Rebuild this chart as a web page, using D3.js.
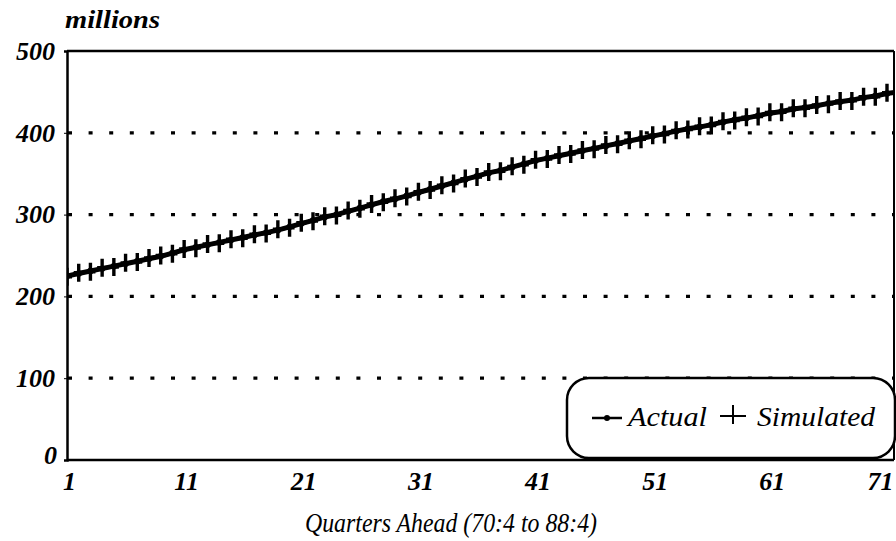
<!DOCTYPE html>
<html><head><meta charset="utf-8">
<script src="https://cdn.jsdelivr.net/npm/d3@7"></script>
<style>
body{margin:0;background:#fff;}
text{font-family:"Liberation Serif","Times New Roman","DejaVu Serif",serif;font-style:italic;font-weight:bold;fill:#000;}
</style></head>
<body><svg id="c" width="896" height="541"></svg>
<script>
const quarters = d3.range(1, 74);
const actual = [225,228,231,234,237,240,243,246,249,253,257,
  260,263,266,269,272,275,278,281,285,289,
  293,297,300,304,308,312,316,319,323,327,
  331,335,339,343,347,351,354,358,362,366,
  369,372,375,378,381,384,387,390,393,396,
  399,402,405,407,410,413,416,418,421,424,
  426,429,431,433,436,438,440,443,445,448,
  450,452];
const simulated = [224,229,230,235,236,241,242,247,250,252,258,
  259,264,265,270,271,276,277,282,284,290,
  292,298,299,305,307,313,315,320,322,328,
  330,336,338,344,346,352,353,359,361,367,
  368,373,374,379,380,385,386,391,392,397,
  398,403,404,408,409,414,415,419,420,425,
  425,430,430,434,435,439,439,444,444,449,
  449,453];
const xTicks = [1,11,21,31,41,51,61,71];
const yTicks = [0,100,200,300,400,500];
const yUnit = "millions";
const xTitle = "Quarters Ahead (70:4 to 88:4)";
const legendNames = ["Actual","Simulated"];

const L=67, R=894, T=51, B=460;
const svg = d3.select("#c");
const x = d3.scaleLinear().domain([1, 71]).range([L, 887]);
const y = d3.scaleLinear().domain([0, 500]).range([B, T]);

svg.append("defs").append("clipPath").attr("id","clip")
  .append("rect").attr("x",L).attr("y",T-20).attr("width",R-L).attr("height",B-T+20);

// grid
svg.append("g").selectAll("line").data(yTicks.filter(d=>d>0&&d<500)).join("line")
  .attr("x1",L+1).attr("x2",R).attr("y1",d=>y(d)).attr("y2",d=>y(d))
  .attr("stroke","#000").attr("stroke-width",3.2).attr("stroke-dasharray","4,16.6");

// y axis
const ya = svg.append("g").attr("transform",`translate(${L},0)`)
  .call(d3.axisLeft(y).tickValues(yTicks).tickSize(3).tickPadding(9));
ya.select(".domain").attr("stroke-width",2.5);
ya.selectAll("text").attr("font-size",26);
ya.selectAll("text").filter(d=>d===0).attr("dy","0.12em").attr("x",-10);

// x axis
const xa = svg.append("g").attr("transform",`translate(0,${B})`)
  .call(d3.axisBottom(x).tickValues(xTicks).tickSize(0).tickPadding(12));
xa.select(".domain").remove();
xa.selectAll("text").attr("font-size",26).attr("dx",2);
xa.selectAll("text").filter(d=>d===71).attr("text-anchor","end").attr("dx",6);

// frame
svg.append("line").attr("x1",L).attr("x2",R).attr("y1",B).attr("y2",B).attr("stroke","#000").attr("stroke-width",2.5);
svg.append("line").attr("x1",L).attr("x2",R).attr("y1",T).attr("y2",T).attr("stroke","#000").attr("stroke-width",2.5);
svg.append("line").attr("x1",R).attr("x2",R).attr("y1",T).attr("y2",B).attr("stroke","#000").attr("stroke-width",2);

// series
const g = svg.append("g").attr("clip-path","url(#clip)");
const line = d3.line().x((d,i)=>x(quarters[i])).y(d=>y(d));
g.append("path").datum(simulated).attr("d",line).attr("fill","none").attr("stroke","#000").attr("stroke-width",3.5);
g.append("path").datum(actual).attr("d",line).attr("fill","none").attr("stroke","#000").attr("stroke-width",5);
g.selectAll(".sim").data(simulated).join("path").attr("class","sim")
  .attr("d",(d,i)=>{const cx=x(quarters[i]), cy=y(d); return `M${cx-5},${cy}H${cx+5}M${cx},${cy-9}V${cy+9}`;})
  .attr("stroke","#000").attr("stroke-width",3.4).attr("fill","none");
g.selectAll(".act").data(actual).join("circle").attr("class","act")
  .attr("cx",(d,i)=>x(quarters[i])).attr("cy",d=>y(d)).attr("r",3.2)
  .attr("fill","#000");

// titles
svg.append("text").attr("x",65).attr("y",28).attr("font-size",25).text(yUnit)
  .attr("textLength",95).attr("lengthAdjust","spacingAndGlyphs");
svg.append("text").attr("x",305).attr("y",532).attr("font-size",28).style("font-weight","normal").text(xTitle)
  .attr("textLength",292).attr("lengthAdjust","spacingAndGlyphs");

// legend
const lg = svg.append("g");
lg.append("rect").attr("x",567).attr("y",378).attr("width",328).attr("height",80).attr("rx",22)
  .attr("fill","#fff").attr("stroke","#000").attr("stroke-width",2.5);
lg.append("line").attr("x1",592).attr("x2",622).attr("y1",418).attr("y2",418).attr("stroke","#000").attr("stroke-width",2.5);
lg.append("circle").attr("cx",607).attr("cy",418).attr("r",3).attr("fill","#000");
lg.append("text").attr("x",628).attr("y",426).attr("font-size",27).style("font-weight","normal").text(legendNames[0])
  .attr("textLength",79).attr("lengthAdjust","spacingAndGlyphs");
lg.append("path").attr("d","M720,416H746M733,405V424").attr("stroke","#000").attr("stroke-width",2);
lg.append("text").attr("x",757).attr("y",426).attr("font-size",27).style("font-weight","normal").text(legendNames[1])
  .attr("textLength",118).attr("lengthAdjust","spacingAndGlyphs");
</script></body></html>
